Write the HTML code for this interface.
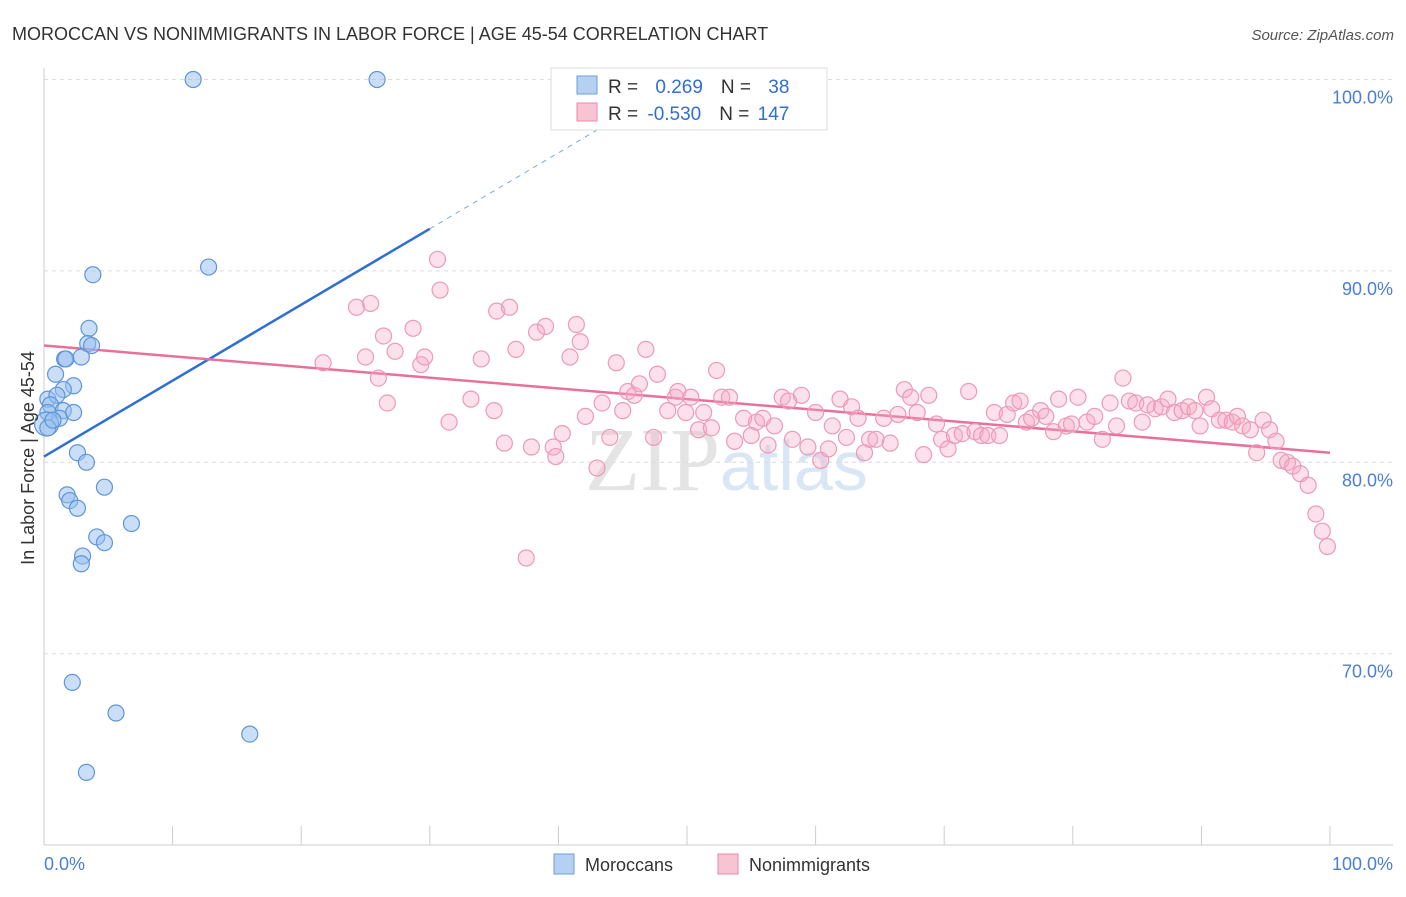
<!DOCTYPE html>
<html><head><meta charset="utf-8"><style>
body{margin:0;background:#fff;font-family:"Liberation Sans",sans-serif;}
</style></head><body>
<svg width="1406" height="892" xmlns="http://www.w3.org/2000/svg" id="chart">
<text x="12" y="40" font-size="18" fill="#333">MOROCCAN VS NONIMMIGRANTS IN LABOR FORCE | AGE 45-54 CORRELATION CHART</text>
<text x="1394" y="40" font-size="15" fill="#555" font-style="italic" text-anchor="end">Source: ZipAtlas.com</text>
<text x="720" y="490" font-size="90" fill="#e4e4e4" text-anchor="end" font-family="Liberation Serif,serif">ZIP</text>
<text x="720" y="490" font-size="70" fill="#d8e6f6">atlas</text>
<g id="grid"></g><g id="axes"></g><g id="trends"></g><g id="pts"></g>
<text transform="translate(34,458) rotate(-90)" font-size="18" fill="#333" text-anchor="middle">In Labor Force | Age 45-54</text>
<text x="44" y="870" font-size="18" fill="#4a7fd4">0.0%</text>
<text x="1393" y="870" font-size="18" fill="#4a7fd4" text-anchor="end">100.0%</text>
<g>
<rect x="551" y="68" width="276" height="62" fill="#fff" stroke="#ddd"/>
<rect x="577" y="76" width="20" height="18" fill="#b5d0f3" stroke="#6a9fd8"/>
<rect x="577" y="103" width="20" height="18" fill="#f8c4d4" stroke="#e88aa8"/>
<text x="608" y="93" font-size="19" fill="#333">R = <tspan fill="#2f6fd0" dx="12">0.269</tspan><tspan dx="18" fill="#333">N = </tspan><tspan fill="#2f6fd0" dx="12">38</tspan></text>
<text x="608" y="120" font-size="19" fill="#333">R = <tspan fill="#2f6fd0" dx="4">-0.530</tspan><tspan dx="18" fill="#333">N = </tspan><tspan fill="#2f6fd0" dx="3">147</tspan></text>
</g>
<g>
<rect x="554" y="854" width="20" height="20" fill="#b5d0f3" stroke="#6a9fd8"/>
<text x="585" y="871" font-size="18" fill="#333">Moroccans</text>
<rect x="718" y="854" width="20" height="20" fill="#f8c4d4" stroke="#e88aa8"/>
<text x="749" y="871" font-size="18" fill="#333">Nonimmigrants</text>
</g>
</svg>
<script>
const yTicks=[100,90,80,70];
const yTickLabels=["100.0%","90.0%","80.0%","70.0%"];
const xTicks=[0,10,20,30,40,50,60,70,80,90,100];
const blueX=[11.6,25.9,3.8,12.8,3.5,3.4,3.7,1.6,1.7,2.9,0.9,2.3,1.5,0.3,1.0,0.5,1.5,2.3,0.3,1.2,0.2,2.6,3.3,1.8,2.0,2.6,4.7,6.8,4.1,4.7,3.0,2.9,2.2,5.6,16.0,3.3,0.3,0.7];
const blueY=[100,100,89.8,90.2,87.0,86.2,86.1,85.4,85.4,85.5,84.6,84.0,83.8,83.3,83.5,83.0,82.7,82.6,82.6,82.3,82.0,80.5,80.0,78.3,78.0,77.6,78.7,76.8,76.1,75.8,75.1,74.7,68.5,66.9,65.8,63.8,81.8,82.2];
const pinkX=[30.6,24.3,25.4,30.8,35.2,36.2,28.7,26.4,27.3,21.7,25.0,26.0,29.3,29.6,26.7,31.5,33.2,34.0,35.0,35.8,36.7,37.9,38.3,39.0,39.6,39.8,40.3,40.9,41.4,41.7,42.1,43.0,43.4,44.0,44.5,45.4,45.9,45.0,46.3,46.8,47.4,47.7,48.5,49.1,49.3,49.9,50.3,50.9,51.3,51.9,52.3,52.7,53.3,53.7,54.4,55.0,55.4,55.9,56.3,56.8,57.4,57.9,58.2,58.9,59.4,60.0,60.4,61.0,61.3,61.9,62.4,62.8,63.3,63.8,64.2,64.7,65.3,65.8,66.4,66.9,67.4,67.9,68.4,68.8,69.4,69.8,70.3,70.8,71.4,71.9,72.4,72.9,73.4,73.9,74.3,74.9,75.4,75.9,76.4,76.8,77.5,77.9,78.5,78.9,79.5,79.9,80.4,81.1,81.7,82.3,82.9,83.4,83.9,84.4,84.9,85.4,85.8,86.4,86.9,87.4,87.9,88.5,89.0,89.5,89.9,90.4,90.8,91.4,91.9,92.4,92.8,93.2,93.8,94.3,94.8,95.3,95.8,96.2,96.7,97.1,97.7,98.3,98.9,99.4,99.8,37.5];
const pinkY=[90.6,88.1,88.3,89.0,87.9,88.1,87.0,86.6,85.8,85.2,85.5,84.4,85.1,85.5,83.1,82.1,83.3,85.4,82.7,81.0,85.9,80.8,86.8,87.1,80.8,80.3,81.5,85.5,87.2,86.3,82.4,79.7,83.1,81.3,85.2,83.7,83.5,82.7,84.1,85.9,81.3,84.6,82.7,83.4,83.7,82.6,83.4,81.7,82.6,81.8,84.8,83.4,83.4,81.1,82.3,81.4,82.1,82.3,80.9,81.9,83.4,83.2,81.2,83.5,80.8,82.6,80.1,80.7,81.9,83.3,81.3,82.9,82.3,80.5,81.2,81.2,82.3,81.0,82.5,83.8,83.4,82.6,80.4,83.5,82.0,81.2,80.7,81.4,81.5,83.7,81.6,81.4,81.4,82.6,81.4,82.5,83.1,83.2,82.1,82.3,82.7,82.4,81.6,83.3,81.9,82.0,83.4,82.1,82.4,81.2,83.1,81.9,84.4,83.2,83.1,82.1,83.0,82.8,82.9,83.3,82.6,82.7,82.9,82.7,81.9,83.4,82.8,82.2,82.2,82.1,82.4,81.9,81.7,80.5,82.2,81.7,81.1,80.1,80.0,79.8,79.4,78.8,77.3,76.4,75.6,75.0];
const blueTrendX=[0,30],blueTrendY=[80.3,92.2],blueDashEndX=45;
const pinkTrendX=[0,100],pinkTrendY=[86.1,80.5];
const NS="http://www.w3.org/2000/svg";
const sx=v=>44+v*12.86, sy=v=>79.5+(100-v)*19.14;
function mk(t,a,p){const e=document.createElementNS(NS,t);for(const k in a)e.setAttribute(k,a[k]);document.getElementById(p).appendChild(e);return e;}
yTicks.forEach((t,i)=>{
 const g=mk('line',{x1:44,x2:1393,y1:sy(t),y2:sy(t),stroke:'#dcdcdc','stroke-dasharray':'4,4'},'grid');
 
 
 const l=mk('text',{x:1393,y:sy(t)+24,'font-size':18,fill:'#4a7fd4','text-anchor':'end'},'grid');
 l.textContent=yTickLabels[i];
 
 
});
const ax=mk('line',{x1:44,x2:44,y1:68,y2:845,stroke:'#ccc'},'axes');


const bx=mk('line',{x1:44,x2:1393,y1:845,y2:845,stroke:'#ccc'},'axes');


xTicks.forEach(t=>{const e=mk('line',{x1:sx(t),x2:sx(t),y1:826,y2:845,stroke:'#ccc'},'axes');
 
 });
const slope=(blueTrendY[1]-blueTrendY[0])/(blueTrendX[1]-blueTrendX[0]);
const bd=mk('line',{x1:sx(blueTrendX[1]),y1:sy(blueTrendY[1]),x2:sx(blueDashEndX),y2:sy(blueTrendY[0]+slope*blueDashEndX),stroke:'#7aa8e0','stroke-dasharray':'5,5','stroke-width':1},'trends');


const bt=mk('line',{x1:sx(blueTrendX[0]),y1:sy(blueTrendY[0]),x2:sx(blueTrendX[1]),y2:sy(blueTrendY[1]),stroke:'#2e6fd2','stroke-width':2.5},'trends');


const pt=mk('line',{x1:sx(pinkTrendX[0]),y1:sy(pinkTrendY[0]),x2:sx(pinkTrendX[1]),y2:sy(pinkTrendY[1]),stroke:'#e8709a','stroke-width':2.5},'trends');


pinkX.forEach((x,i)=>{const c=mk('circle',{cx:sx(x),cy:sy(pinkY[i]),r:8,fill:'rgba(245,170,195,0.35)',stroke:'#ec9ab5','stroke-width':1.2},'pts');
 
 });
blueX.forEach((x,i)=>{const c=mk('circle',{cx:sx(x),cy:sy(blueY[i]),r:i==20?12:8,fill:'rgba(150,190,240,0.5)',stroke:'#5f95d6','stroke-width':1.2},'pts');
 
 });
</script>
</body></html>
